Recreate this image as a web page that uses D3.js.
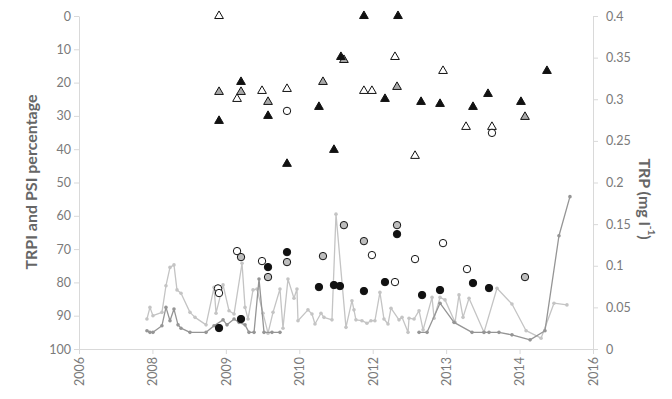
<!DOCTYPE html>
<html>
<head>
<meta charset="utf-8">
<script src="https://cdn.jsdelivr.net/npm/d3@7"></script>
<style>
  html, body { margin: 0; padding: 0; background: #fff; overflow: hidden; }
  svg { display: block; font-family: Lato, "Open Sans", sans-serif; }
</style>
</head>
<body>
<svg id="chart" width="672" height="399"></svg>
<script>
// Axis tick dates (500-day major unit) and value ticks
const xTickDates = ["2006-08-26", "2008-01-08", "2009-05-22", "2010-10-04", "2012-02-16", "2013-06-30", "2014-11-12", "2016-03-26"];
const leftTicks = [0, 10, 20, 30, 40, 50, 60, 70, 80, 90, 100];
const rightTicks = [0, 0.05, 0.1, 0.15, 0.2, 0.25, 0.3, 0.35, 0.4];

// TRP series (mg l-1), sampling date as decimal year
const trpLightDates = [2007.917, 2007.973, 2008.029, 2008.196, 2008.271, 2008.346, 2008.420, 2008.476, 2008.551, 2008.718, 2008.812, 2009.017, 2009.166, 2009.203, 2009.334, 2009.445, 2009.539, 2009.688, 2009.744, 2009.800, 2009.893, 2009.967, 2010.079, 2010.173, 2010.266, 2010.396, 2010.452, 2010.545, 2010.657, 2010.713, 2010.732, 2010.918, 2010.993, 2011.049, 2011.161, 2011.217, 2011.366, 2011.441, 2011.627, 2011.739, 2011.776, 2011.813, 2011.925, 2012.018, 2012.093, 2012.167, 2012.260, 2012.335, 2012.410, 2012.466, 2012.615, 2012.671, 2012.783, 2012.801, 2012.895, 2012.988, 2013.063, 2013.230, 2013.268, 2013.379, 2013.472, 2013.659, 2013.733, 2013.808, 2013.920, 2014.199, 2014.442, 2014.721, 2014.985, 2015.264, 2015.505, 2015.747];
const trpLightValues = [0.036, 0.050, 0.040, 0.044, 0.076, 0.098, 0.101, 0.071, 0.067, 0.044, 0.038, 0.029, 0.074, 0.043, 0.077, 0.046, 0.042, 0.103, 0.050, 0.036, 0.071, 0.072, 0.043, 0.019, 0.044, 0.072, 0.025, 0.084, 0.061, 0.072, 0.034, 0.047, 0.042, 0.030, 0.043, 0.038, 0.035, 0.162, 0.026, 0.058, 0.047, 0.035, 0.034, 0.031, 0.034, 0.034, 0.068, 0.036, 0.030, 0.049, 0.035, 0.038, 0.020, 0.037, 0.036, 0.046, 0.023, 0.062, 0.037, 0.062, 0.059, 0.032, 0.065, 0.038, 0.061, 0.020, 0.073, 0.054, 0.022, 0.013, 0.055, 0.053];

const trpDarkDates = [2007.917, 2007.973, 2008.029, 2008.196, 2008.271, 2008.346, 2008.420, 2008.495, 2008.551, 2008.718, 2009.017, 2009.166, 2009.334, 2009.408, 2009.539, 2009.632, 2009.744, 2009.818, 2009.912, 2010.005, 2010.098, 2010.247, 2010.396, null, 2012.988, 2013.137, 2013.379, 2013.640, 2013.976, 2014.199, 2014.293, 2014.479, 2014.721, 2015.059, 2015.337, 2015.598, 2015.803];
const trpDarkValues = [0.022, 0.020, 0.020, 0.028, 0.050, 0.034, 0.048, 0.029, 0.025, 0.020, 0.020, 0.028, 0.035, 0.029, 0.036, 0.032, 0.029, 0.020, 0.020, 0.084, 0.020, 0.020, 0.020, null, 0.020, 0.020, 0.055, 0.032, 0.020, 0.020, 0.020, 0.020, 0.017, 0.011, 0.022, 0.136, 0.183];

// TRPI percentages (triangles)
const trpiBlackDates = [2011.962, 2012.596, 2011.533, 2009.669, 2011.123, 2010.173, 2009.259, 2011.403, 2010.527, 2015.374, 2012.354, 2014.274, 2013.025, 2013.379, 2013.994, 2014.889];
const trpiBlackValues = [0, 0, 12.3, 19.8, 27.3, 30.0, 31.5, 40.2, 44.4, 16.5, 24.9, 23.4, 25.8, 26.4, 27.3, 25.8];
const trpiGreyDates = [2011.589, 2011.198, 2009.259, 2009.669, 2010.173, 2012.578, 2014.964];
const trpiGreyValues = [13.2, 19.8, 22.8, 22.8, 25.8, 21.3, 30.3];
const trpiWhiteDates = [2009.259, 2010.061, 2010.527, 2011.962, 2012.111, 2009.595, 2012.540, 2013.435, 2013.864, 2014.348, 2012.913];
const trpiWhiteValues = [0, 22.5, 21.9, 22.5, 22.5, 24.9, 12.3, 16.5, 33.3, 33.3, 42.0];

// PSI percentages (circles)
const psiBlackDates = [2009.259, 2009.669, 2010.173, 2010.527, 2011.123, 2011.403, 2011.515, 2011.962, 2012.578, 2012.354, 2013.044, 2013.379, 2013.994, 2014.293];
const psiBlackValues = [93.7, 91.0, 75.4, 70.9, 81.4, 80.8, 81.1, 82.6, 65.5, 79.9, 83.8, 82.3, 80.2, 81.7];
const psiGreyDates = [2009.669, 2010.173, 2010.527, 2011.198, 2011.589, 2011.962, 2012.578, 2014.964];
const psiGreyValues = [72.4, 78.4, 73.9, 72.1, 62.8, 67.6, 62.8, 78.4];
const psiWhiteDates = [2009.240, 2009.259, 2009.595, 2010.061, 2010.527, 2012.111, 2012.540, 2012.913, 2013.435, 2013.882, 2014.348];
const psiWhiteValues = [81.8, 83.2, 70.6, 73.6, 28.5, 71.8, 79.9, 73.0, 68.2, 76.0, 35.1];

// Helpers
const parseDay = d3.utcParse("%Y-%m-%d");
function fromDecimalYear(y) {
  const yr = Math.floor(y);
  const a = Date.UTC(yr, 0, 1), b = Date.UTC(yr + 1, 0, 1);
  return new Date(a + (y - yr) * (b - a));
}
function zipSeries(dates, values) {
  return dates.map((d, i) => d == null ? null : { date: fromDecimalYear(d), value: values[i] });
}

const svg = d3.select("#chart");
svg.append("rect").attr("width", 672).attr("height", 399).attr("fill", "#fff");

const tickDates = xTickDates.map(parseDay);
const x = d3.scaleUtc().domain([tickDates[0], tickDates[tickDates.length - 1]]).range([79, 593]);
const yLeft = d3.scaleLinear().domain([0, 100]).range([16, 349]);
const yRight = d3.scaleLinear().domain([0, 0.4]).range([349, 16]);

const axisColor = "#d9d9d9";
const labelColor = "#7a7a7a";

function styleAxis(g) {
  g.selectAll(".domain").attr("stroke", axisColor).attr("stroke-width", 1);
  g.selectAll(".tick line").attr("stroke", axisColor).attr("stroke-width", 1);
  g.selectAll(".tick text").attr("fill", labelColor).attr("font-size", 12.5)
    .attr("font-family", "Lato, 'Open Sans', sans-serif");
}

// Left axis (inverted percentage)
const gLeft = svg.append("g").attr("transform", "translate(79,0)")
  .call(d3.axisLeft(yLeft).tickValues(leftTicks).tickSize(5).tickSizeOuter(0).tickPadding(3));
styleAxis(gLeft);

// Right axis (TRP)
const gRight = svg.append("g").attr("transform", "translate(593,0)")
  .call(d3.axisRight(yRight).tickValues(rightTicks).tickSize(5).tickSizeOuter(0).tickPadding(8)
    .tickFormat(d => d === 0 ? "0" : String(+d.toFixed(2))));
styleAxis(gRight);

// Bottom date axis with rotated year labels
const gBottom = svg.append("g").attr("transform", "translate(0,349)")
  .call(d3.axisBottom(x).tickValues(tickDates).tickSize(5).tickSizeOuter(0)
    .tickFormat(d3.utcFormat("%Y")));
styleAxis(gBottom);
gBottom.selectAll(".tick text")
  .attr("text-anchor", "end")
  .attr("x", 0).attr("y", 0).attr("dx", "-8px").attr("dy", "0.35em")
  .attr("transform", "rotate(-90)");

// Axis titles
svg.append("text")
  .attr("transform", "translate(30,182) rotate(-90)")
  .attr("text-anchor", "middle").attr("dominant-baseline", "central")
  .attr("font-size", 16).attr("font-weight", "bold").attr("fill", "#666")
  .text("TRPI and PSI percentage");

const rt = svg.append("text")
  .attr("transform", "translate(646,199) rotate(90)")
  .attr("text-anchor", "middle").attr("dominant-baseline", "central")
  .attr("font-size", 16).attr("font-weight", "bold").attr("fill", "#666");
rt.append("tspan").text("TRP (mg l");
rt.append("tspan").attr("font-size", 10).attr("baseline-shift", "super").text("-1");
rt.append("tspan").text(")");

// TRP lines with small point markers
function drawTrp(dates, values, color, r) {
  const data = zipSeries(dates, values);
  const line = d3.line()
    .defined(d => d != null)
    .x(d => x(d.date)).y(d => yRight(d.value));
  svg.append("path").datum(data)
    .attr("fill", "none").attr("stroke", color).attr("stroke-width", 1.3)
    .attr("stroke-linejoin", "round").attr("d", line);
  svg.append("g").selectAll("circle").data(data.filter(d => d != null)).join("circle")
    .attr("cx", d => x(d.date)).attr("cy", d => yRight(d.value))
    .attr("r", r).attr("fill", color);
}
drawTrp(trpLightDates, trpLightValues, "#c4c4c4", 1.8);
drawTrp(trpDarkDates, trpDarkValues, "#959595", 1.8);

// TRPI triangles
const tri = d3.symbol().type(d3.symbolTriangle).size(33);
function drawTriangles(dates, values, fill) {
  svg.append("g").selectAll("path").data(zipSeries(dates, values)).join("path")
    .attr("d", tri)
    .attr("transform", d => `translate(${x(d.date)},${yLeft(d.value)})`)
    .attr("fill", fill).attr("stroke", "#111").attr("stroke-width", 1);
}
drawTriangles(trpiWhiteDates, trpiWhiteValues, "#ffffff");
drawTriangles(trpiGreyDates, trpiGreyValues, "#a8a8a8");
drawTriangles(trpiBlackDates, trpiBlackValues, "#111111");

// PSI circles
function drawCircles(dates, values, fill) {
  svg.append("g").selectAll("circle").data(zipSeries(dates, values)).join("circle")
    .attr("cx", d => x(d.date)).attr("cy", d => yLeft(d.value))
    .attr("r", 3.7)
    .attr("fill", fill).attr("stroke", "#111").attr("stroke-width", 1);
}
drawCircles(psiWhiteDates, psiWhiteValues, "#ffffff");
drawCircles(psiGreyDates, psiGreyValues, "#bdbdbd");
drawCircles(psiBlackDates, psiBlackValues, "#111111");
</script>
</body>
</html>
